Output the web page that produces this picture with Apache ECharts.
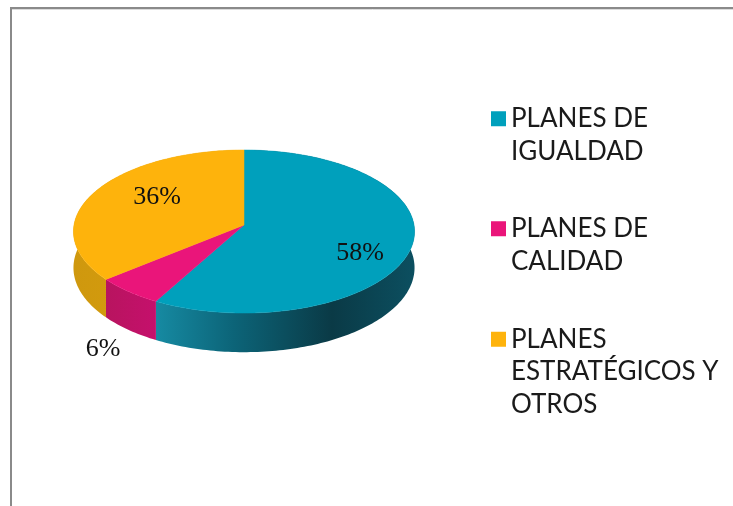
<!DOCTYPE html>
<html><head><meta charset="utf-8">
<style>html,body{margin:0;padding:0;background:#fff}#c{width:733px;height:506px}</style>
<script src="https://cdn.jsdelivr.net/npm/echarts@6/dist/echarts.min.js"></script>
</head><body><div id="c"></div>
<script>
const categories = ['PLANES DE\nIGUALDAD', 'PLANES DE\nCALIDAD', 'PLANES\nESTRATÉGICOS Y\nOTROS'];
const values = [58, 6, 36];
const colors = ['#00A0BC', '#EA157A', '#FEB30C'];
const sideStops = [
  [[0,'#168aa2'],[0.3,'#0c6478'],[0.68,'#0a3a46'],[1,'#0c4f60']],
  [[0,'#b8145f'],[1,'#c5106c']],
  [[0,'#cf980e'],[1,'#dca20c']]
];
const labelPos = [[360,253],[103,349],[157,197]];
const legendTop = [70, 180, 258];

// disc projection
const CX = 244, CY = 225, BX = 170, AY = 81, K = 0.08, DEPTH = 36;
function proj(theta, r, drop) {
  const u = r * Math.sin(theta), v = -r * Math.cos(theta), w = 1 / (1 - K * v);
  return [CX + BX * u * w, CY + AY * v * w + drop * w];
}
const total = values.reduce((a, b) => a + b, 0);
function sliceAngles(i) {
  let s = 0; for (let j = 0; j < i; j++) s += values[j];
  return [s / total * 2 * Math.PI, (s + values[i]) / total * 2 * Math.PI];
}
function arc(a, b, drop) {
  const n = Math.max(8, Math.ceil((b - a) / 0.02)), pts = [];
  for (let k = 0; k <= n; k++) pts.push(proj(a + (b - a) * k / n, 1, drop));
  return pts;
}
function makeRender(i) {
  return function () {
    const [a, b] = sliceAngles(i);
    const top = arc(a, b, 0), bottom = arc(a, b, DEPTH).reverse();
    return {
      type: 'group',
      children: [
        { type: 'polygon', z2: 1, shape: { points: top.concat(bottom) },
          style: { fill: new echarts.graphic.LinearGradient(0, 0, 1, 0,
            sideStops[i].map(s => ({ offset: s[0], color: s[1] }))) } },
        { type: 'polygon', z2: 5, shape: { points: [proj(0, 0, 0)].concat(top) },
          style: { fill: colors[i], stroke: colors[i], lineWidth: 0.5 } },
        { type: 'text', z2: 10, x: labelPos[i][0], y: labelPos[i][1],
          style: { text: values[i] + '%', fill: '#111', align: 'center', verticalAlign: 'middle',
            font: '26px "Liberation Serif"' } }
      ]
    };
  };
}
const legendFont = { fontFamily: 'Lato', fontSize: 26, color: '#1a1a1a', lineHeight: 32.5 };
const chart = echarts.init(document.getElementById('c'), null, { renderer: 'canvas' });
chart.setOption({
  animation: false,
  backgroundColor: '#fff',
  tooltip: { show: false },
  legend: categories.map((name, i) => ({
    show: true, orient: 'vertical', left: 491, top: legendTop[i], padding: 0,
    itemWidth: 15, itemHeight: 15, itemGap: 0, icon: 'rect', selectedMode: false,
    data: [name],
    // leading blank lines keep the swatch level with the first line of the name
    formatter: n => '\n'.repeat(n.split('\n').length - 1) + n,
    textStyle: legendFont
  })),
  graphic: [
    { type: 'polyline', silent: true, shape: { points: [[11, 506], [11, 8], [733, 8]] },
      style: { stroke: '#8a8a8a', lineWidth: 2, fill: null } },
    { type: 'line', silent: true, shape: { x1: 12, y1: 9.5, x2: 733, y2: 9.5 },
      style: { stroke: '#dcdcdc', lineWidth: 1 } }
  ],
  series: categories.map((name, i) => ({
    type: 'custom', name, coordinateSystem: 'none', data: [values[i]],
    itemStyle: { color: colors[i] }, renderItem: makeRender(i), silent: true
  }))
});
</script></body></html>
